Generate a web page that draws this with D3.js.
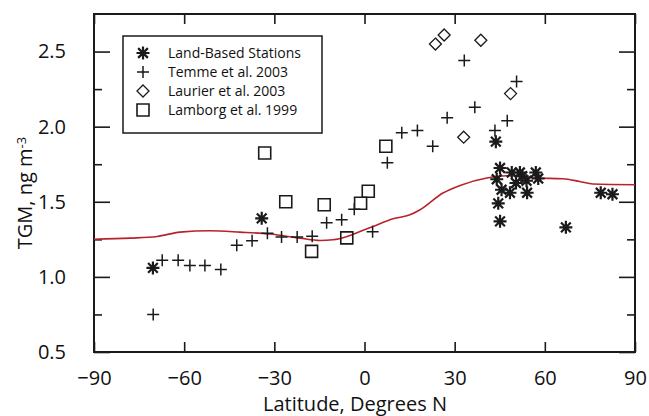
<!DOCTYPE html>
<html>
<head>
<meta charset="utf-8">
<script src="https://cdn.jsdelivr.net/npm/d3@7"></script>
<style>
  body { margin: 0; background: #fff; }
  text { font-family: "Open Sans", sans-serif; fill: #111; }
</style>
</head>
<body>
<svg id="chart"></svg>
<script>
// ---- data ----
const LAND_LAT = [-70.4, -34.2, 43.7, 45.1, 44.0, 49.0, 51.7, 57.0, 57.8, 45.6, 48.4, 50.4, 53.9, 54.1, 44.5, 45.1, 67.0, 78.6, 82.5, 52.5];
const LAND_TGM = [1.06, 1.39, 1.90, 1.725, 1.65, 1.695, 1.695, 1.695, 1.655, 1.58, 1.56, 1.625, 1.64, 1.56, 1.49, 1.37, 1.33, 1.56, 1.55, 1.67];

const TEMME_LAT = [-70.3, -67.3, -62.0, -58.1, -53.1, -47.8, -42.5, -37.4, -32.3, -27.6, -22.4, -17.4, -12.6, -7.6, -3.4, 2.7, 7.6, 12.4, 17.6, 22.7, 27.5, 33.2, 36.7, 43.4, 47.5, 50.6];
const TEMME_TGM = [0.75, 1.11, 1.11, 1.075, 1.075, 1.05, 1.21, 1.24, 1.29, 1.265, 1.265, 1.27, 1.36, 1.38, 1.45, 1.30, 1.76, 1.96, 1.975, 1.87, 2.06, 2.44, 2.13, 1.975, 2.04, 2.30];

const LAURIER_LAT = [23.6, 26.5, 38.7, 48.6, 33.0];
const LAURIER_TGM = [2.55, 2.61, 2.575, 2.22, 1.93];

const LAMBORG_LAT = [-33.2, -26.2, -17.6, -13.4, -5.9, -1.3, 1.25, 7.1];
const LAMBORG_TGM = [1.825, 1.50, 1.17, 1.48, 1.26, 1.49, 1.57, 1.87];

const MODEL_LAT = [-90, -78, -69, -61.4, -51.4, -41.4, -31.4, -21.5, -14.8, -10.5, -5.8, -1.5, 2.8, 9.5, 15.1, 18.5, 26.1, 31.8, 40.7, 47.3, 57.3, 66, 71.6, 76, 90];
const MODEL_TGM = [1.251, 1.258, 1.269, 1.298, 1.307, 1.298, 1.285, 1.258, 1.242, 1.247, 1.269, 1.302, 1.335, 1.387, 1.413, 1.447, 1.558, 1.609, 1.658, 1.673, 1.658, 1.653, 1.635, 1.618, 1.613];

const X_TICKS = [-90, -60, -30, 0, 30, 60, 90];
const Y_TICKS = [0.5, 1.0, 1.5, 2.0, 2.5];
const Y_MINOR = [0.75, 1.25, 1.75, 2.25];

const LEGEND_LABELS = ["Land-Based Stations", "Temme et al. 2003", "Laurier et al. 2003", "Lamborg et al. 1999"];

const WIDTH = 649;
const HEIGHT = 416;
const MARGIN = { top: 14, right: 14, bottom: 64, left: 94 };
const INK = "#1a1a1a";
const LABEL_SIZE = "20px";

function zip(a, b) {
    return a.map(function (d, i) { return [d, b[i]]; });
}

let svg = d3.select("#chart")
    .attr("width", WIDTH)
    .attr("height", HEIGHT);

let x = d3.scaleLinear().domain([-90, 90]).range([MARGIN.left, WIDTH - MARGIN.right]);
let y = d3.scaleLinear().domain([0.5, 2.75]).range([HEIGHT - MARGIN.bottom, MARGIN.top]);

// ---- axes (ticks point inward on all sides) ----
function styleAxis(g) {
    g.select(".domain").remove();
    g.selectAll(".tick line").attr("stroke", INK).attr("stroke-width", 1.6);
    g.selectAll(".tick text").attr("font-size", LABEL_SIZE).attr("fill", INK);
}

svg.append("g")
    .attr("transform", "translate(0," + y.range()[0] + ")")
    .call(d3.axisBottom(x).tickValues(X_TICKS).tickFormat(d3.format("d")).tickSizeInner(-10).tickPadding(19))
    .call(styleAxis);

svg.append("g")
    .attr("transform", "translate(0," + MARGIN.top + ")")
    .call(d3.axisTop(x).tickValues(X_TICKS).tickFormat("").tickSizeInner(-10))
    .call(styleAxis);

svg.append("g")
    .attr("transform", "translate(" + MARGIN.left + ",0)")
    .call(d3.axisLeft(y).tickValues(Y_TICKS).tickFormat(d3.format(".1f")).tickSizeInner(-16).tickPadding(28))
    .call(styleAxis);

svg.append("g")
    .attr("transform", "translate(" + MARGIN.left + ",0)")
    .call(d3.axisLeft(y).tickValues(Y_MINOR).tickFormat("").tickSizeInner(-8))
    .call(styleAxis);

svg.append("g")
    .attr("transform", "translate(" + x.range()[1] + ",0)")
    .call(d3.axisRight(y).tickValues(Y_TICKS).tickFormat("").tickSizeInner(-16))
    .call(styleAxis);

svg.append("g")
    .attr("transform", "translate(" + x.range()[1] + ",0)")
    .call(d3.axisRight(y).tickValues(Y_MINOR).tickFormat("").tickSizeInner(-8))
    .call(styleAxis);

// frame
svg.append("rect")
    .attr("x", x.range()[0])
    .attr("y", y.range()[1])
    .attr("width", x.range()[1] - x.range()[0])
    .attr("height", y.range()[0] - y.range()[1])
    .attr("fill", "none")
    .attr("stroke", INK)
    .attr("stroke-width", 2);

// axis titles
svg.append("text")
    .attr("x", 355)
    .attr("y", 411)
    .attr("text-anchor", "middle")
    .attr("font-size", LABEL_SIZE)
    .text("Latitude, Degrees N");

let yTitle = svg.append("text")
    .attr("transform", "translate(32,193) rotate(-90)")
    .attr("text-anchor", "middle")
    .attr("font-size", LABEL_SIZE);
yTitle.append("tspan").text("TGM, ng m");
yTitle.append("tspan").attr("dy", "-0.5em").attr("font-size", "13px").text("-3");

// ---- model curve ----
let line = d3.line()
    .x(function (d) { return x(d[0]); })
    .y(function (d) { return y(d[1]); })
    .curve(d3.curveMonotoneX);

svg.append("path")
    .datum(zip(MODEL_LAT, MODEL_TGM))
    .attr("d", line)
    .attr("fill", "none")
    .attr("stroke", "#b8232b")
    .attr("stroke-width", 1.6);

// ---- marker shapes ----
function plusPath(s) {
    return "M" + (-s) + ",0H" + s + "M0," + (-s) + "V" + s;
}
function starPath(s) {
    let d = s * 0.75;
    return plusPath(s) + "M" + (-d) + "," + (-d) + "L" + d + "," + d + "M" + (-d) + "," + d + "L" + d + "," + (-d);
}
function diamondPath(s) {
    return "M0," + (-s) + "L" + s + ",0L0," + s + "L" + (-s) + ",0Z";
}
function squarePath(s) {
    return "M" + (-s) + "," + (-s) + "H" + s + "V" + s + "H" + (-s) + "Z";
}

function drawMarkers(lat, tgm, pathFn, size, width) {
    svg.append("g").selectAll("path")
        .data(zip(lat, tgm))
        .enter()
        .append("path")
        .attr("transform", function (d) {
            return "translate(" + x(d[0]) + "," + y(d[1]) + ")";
        })
        .attr("d", pathFn(size))
        .attr("fill", "none")
        .attr("stroke", INK)
        .attr("stroke-width", width);
}

drawMarkers(LAMBORG_LAT, LAMBORG_TGM, squarePath, 6, 1.6);
drawMarkers(LAURIER_LAT, LAURIER_TGM, diamondPath, 6, 1.3);
drawMarkers(TEMME_LAT, TEMME_TGM, plusPath, 6, 1.5);
drawMarkers(LAND_LAT, LAND_TGM, starPath, 6.5, 2.2);

// ---- legend ----
let legend = svg.append("g");
legend.append("rect")
    .attr("x", 123).attr("y", 36)
    .attr("width", 199).attr("height", 97)
    .attr("fill", "#fff")
    .attr("stroke", INK)
    .attr("stroke-width", 1.5);

let legendShapes = [
    { fn: starPath, s: 6.5, w: 2.2 },
    { fn: plusPath, s: 6, w: 1.5 },
    { fn: diamondPath, s: 6, w: 1.3 },
    { fn: squarePath, s: 6, w: 1.6 }
];

legend.selectAll("g.item")
    .data(LEGEND_LABELS)
    .enter()
    .append("g")
    .attr("class", "item")
    .attr("transform", function (d, i) { return "translate(143," + (53 + i * 19) + ")"; })
    .each(function (d, i) {
        let g = d3.select(this);
        g.append("path")
            .attr("d", legendShapes[i].fn(legendShapes[i].s))
            .attr("fill", "none")
            .attr("stroke", INK)
            .attr("stroke-width", legendShapes[i].w);
        g.append("text")
            .attr("x", 25)
            .attr("dy", "0.36em")
            .attr("font-size", "14px")
            .text(d);
    });
</script>
</body>
</html>
